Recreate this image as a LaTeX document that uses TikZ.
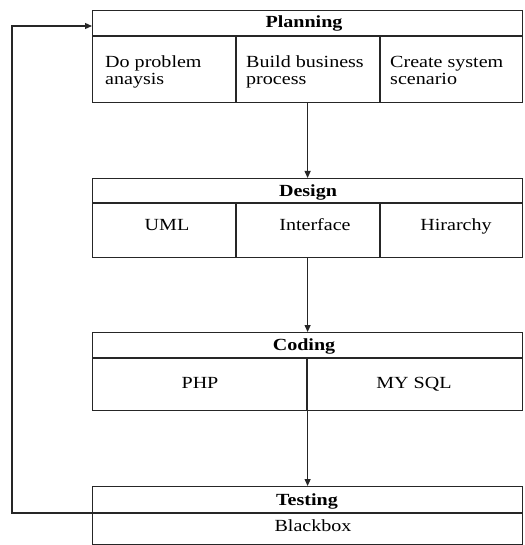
\documentclass[tikz,border=0pt]{standalone}
\usepackage{fontspec}
\setmainfont{Liberation Serif}[FakeStretch=1.18]
\usetikzlibrary{arrows.meta}

\begin{document}
\begin{tikzpicture}[x=1pt,y=-1pt,
  ink/.style={draw=black!85,line width=1.2pt},
  phasebox/.style={ink,rectangle,anchor=north west,inner sep=0pt,minimum width=430pt},
  divider/.style={draw=black!85,line width=1.1pt},
  lbl/.style={inner sep=0pt,font=\fontsize{17}{17}\selectfont},
  head/.style={lbl,font=\fontsize{17}{17}\selectfont\bfseries,anchor=base},
  cellc/.style={lbl,anchor=base},
  celll/.style={lbl,anchor=base west,align=left},
  flow/.style={ink,-{Triangle[length=7pt,width=6pt]}}]
\useasboundingbox (0,0) rectangle (524,545);

% phase boxes
\node[phasebox,minimum height=92pt] (plan) at (92,10) {};
\node[phasebox,minimum height=79pt] (design) at (92,178) {};
\node[phasebox,minimum height=78pt] (coding) at (92,332) {};
\node[phasebox,minimum height=58pt] (test) at (92,486) {};

% Planning
\draw[divider] (92,36) -- (522,36);
\draw[divider] (236,36) -- (236,102);
\draw[divider] (380,36) -- (380,102);
\node[head] (planT) at (304,28) {Planning};
\node[celll] (p1) at (105,68) {Do problem};
\node[celll] (p1b) at (105,85) {anaysis};
\node[celll] (p2) at (246,68) {Build business};
\node[celll] (p2b) at (246,85) {process};
\node[celll] (p3) at (390,68) {Create system};
\node[celll] (p3b) at (390,85) {scenario};

% Design
\draw[divider] (92,203) -- (522,203);
\draw[divider] (236,203) -- (236,257);
\draw[divider] (380,203) -- (380,257);
\node[head] (designT) at (308,196.5) {Design};
\node[cellc] (d1) at (167,230) {UML};
\node[cellc] (d2) at (315,230) {Interface};
\node[cellc] (d3) at (456,230) {Hirarchy};

% Coding
\draw[divider] (92,358) -- (522,358);
\draw[divider] (307,358) -- (307,410);
\node[head] (codingT) at (304,350) {Coding};
\node[cellc] (c1) at (200,388) {PHP};
\node[cellc] (c2) at (414,388) {MY SQL};

% Testing
\coordinate (tdiv) at (92,513);
\draw[divider] (tdiv) -- (522,513);
\node[head] (testT) at (307,505) {Testing};
\node[cellc] (t1) at (313,531.5) {Blackbox};

% flow between phases
\draw[flow] (plan.south) -- (design.north);
\draw[flow] (design.south) -- (coding.north);
\draw[flow] (coding.south) -- (test.north);

% feedback loop from testing to planning
\coordinate (planin) at (92,26);
\draw[flow] (tdiv) -- ++(-80,0) |- (planin);
\end{tikzpicture}
\end{document}
